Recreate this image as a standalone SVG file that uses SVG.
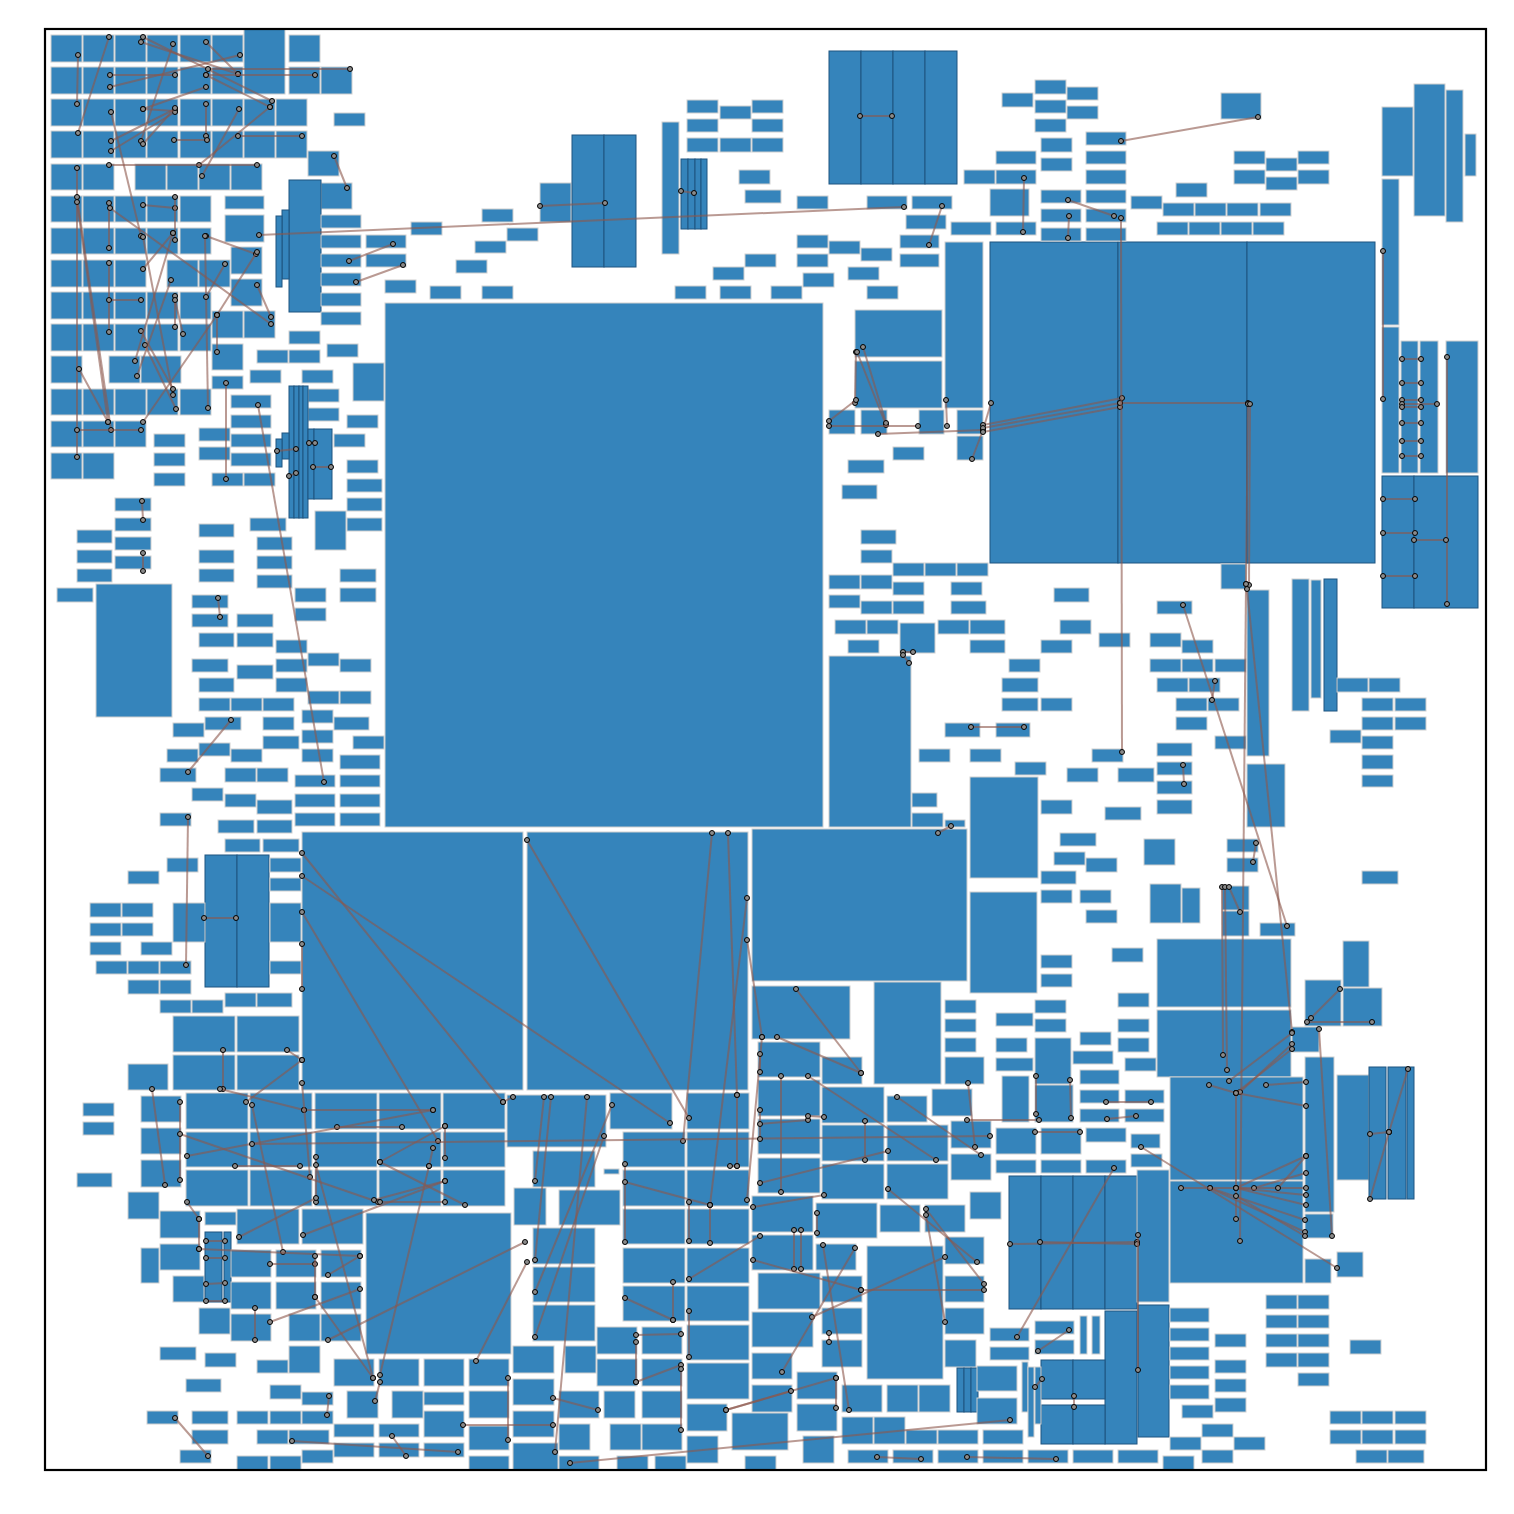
<svg xmlns="http://www.w3.org/2000/svg" width="1514" height="1514" viewBox="0 0 1514 1514">
<style>
#nodes rect{fill:#3584bb;stroke:#cfcfcf;stroke-width:1}
#nodes rect.d{stroke:#1f5580}
#edges line{stroke:#8c564b;stroke-opacity:0.6;stroke-width:2;marker-start:url(#dot);marker-end:url(#dot)}
</style>
<defs>
<marker id="dot" viewBox="0 0 7 7" refX="3.5" refY="3.5" markerWidth="7" markerHeight="7" markerUnits="userSpaceOnUse"><circle cx="3.5" cy="3.5" r="2.5" fill="#8a8a8a" stroke="#000" stroke-width="1"/></marker>
</defs>
<rect x="0" y="0" width="1514" height="1514" fill="#fff"/>
<g id="nodes">
<g id="n1"><rect x="51" y="35" width="31" height="27"/></g>
<g id="n2"><rect x="83" y="35" width="31" height="27"/></g>
<g id="n3"><rect x="115" y="35" width="31" height="27"/></g>
<g id="n4"><rect x="147" y="35" width="31" height="27"/></g>
<g id="n5"><rect x="180" y="35" width="31" height="27"/></g>
<g id="n6"><rect x="212" y="35" width="31" height="27"/></g>
<g id="n7"><rect x="289" y="35" width="31" height="27"/></g>
<g id="n8"><rect x="244" y="29" width="41" height="65"/></g>
<g id="n9"><rect x="51" y="67" width="31" height="27"/></g>
<g id="n10"><rect x="83" y="67" width="31" height="27"/></g>
<g id="n11"><rect x="115" y="67" width="31" height="27"/></g>
<g id="n12"><rect x="147" y="67" width="31" height="27"/></g>
<g id="n13"><rect x="180" y="67" width="31" height="27"/></g>
<g id="n14"><rect x="212" y="67" width="31" height="27"/></g>
<g id="n15"><rect x="289" y="67" width="31" height="27"/></g>
<g id="n16"><rect x="321" y="67" width="31" height="27"/></g>
<g id="n17"><rect x="51" y="99" width="31" height="27"/></g>
<g id="n18"><rect x="83" y="99" width="31" height="27"/></g>
<g id="n19"><rect x="115" y="99" width="31" height="27"/></g>
<g id="n20"><rect x="147" y="99" width="31" height="27"/></g>
<g id="n21"><rect x="180" y="99" width="31" height="27"/></g>
<g id="n22"><rect x="212" y="99" width="31" height="27"/></g>
<g id="n23"><rect x="244" y="99" width="31" height="27"/></g>
<g id="n24"><rect x="276" y="99" width="31" height="27"/></g>
<g id="n25"><rect x="51" y="131" width="31" height="27"/></g>
<g id="n26"><rect x="83" y="131" width="31" height="27"/></g>
<g id="n27"><rect x="115" y="131" width="31" height="27"/></g>
<g id="n28"><rect x="147" y="131" width="31" height="27"/></g>
<g id="n29"><rect x="180" y="131" width="31" height="27"/></g>
<g id="n30"><rect x="212" y="131" width="31" height="27"/></g>
<g id="n31"><rect x="244" y="131" width="31" height="27"/></g>
<g id="n32"><rect x="276" y="131" width="31" height="27"/></g>
<g id="n33"><rect x="51" y="164" width="31" height="26"/></g>
<g id="n34"><rect x="83" y="164" width="31" height="26"/></g>
<g id="n35"><rect x="135" y="164" width="31" height="26"/></g>
<g id="n36"><rect x="167" y="164" width="31" height="26"/></g>
<g id="n37"><rect x="199" y="164" width="31" height="26"/></g>
<g id="n38"><rect x="231" y="164" width="31" height="26"/></g>
<g id="n39"><rect x="51" y="196" width="31" height="26"/></g>
<g id="n40"><rect x="83" y="196" width="31" height="26"/></g>
<g id="n41"><rect x="115" y="196" width="31" height="26"/></g>
<g id="n42"><rect x="147" y="196" width="31" height="26"/></g>
<g id="n43"><rect x="180" y="196" width="31" height="26"/></g>
<g id="n44"><rect x="51" y="228" width="31" height="26"/></g>
<g id="n45"><rect x="83" y="228" width="31" height="26"/></g>
<g id="n46"><rect x="115" y="228" width="31" height="26"/></g>
<g id="n47"><rect x="147" y="228" width="31" height="26"/></g>
<g id="n48"><rect x="180" y="228" width="31" height="26"/></g>
<g id="n49"><rect x="51" y="260" width="31" height="27"/></g>
<g id="n50"><rect x="83" y="260" width="31" height="27"/></g>
<g id="n51"><rect x="115" y="260" width="31" height="27"/></g>
<g id="n52"><rect x="167" y="260" width="31" height="27"/></g>
<g id="n53"><rect x="199" y="260" width="31" height="27"/></g>
<g id="n54"><rect x="51" y="292" width="31" height="27"/></g>
<g id="n55"><rect x="83" y="292" width="31" height="27"/></g>
<g id="n56"><rect x="115" y="292" width="31" height="27"/></g>
<g id="n57"><rect x="147" y="292" width="31" height="27"/></g>
<g id="n58"><rect x="180" y="292" width="31" height="27"/></g>
<g id="n59"><rect x="51" y="324" width="31" height="27"/></g>
<g id="n60"><rect x="83" y="324" width="31" height="27"/></g>
<g id="n61"><rect x="115" y="324" width="31" height="27"/></g>
<g id="n62"><rect x="147" y="324" width="31" height="27"/></g>
<g id="n63"><rect x="180" y="324" width="31" height="27"/></g>
<g id="n64"><rect x="51" y="356" width="31" height="27"/></g>
<g id="n65"><rect x="109" y="356" width="31" height="27"/></g>
<g id="n66"><rect x="141" y="356" width="40" height="27"/></g>
<g id="n67"><rect x="51" y="389" width="31" height="26"/></g>
<g id="n68"><rect x="83" y="389" width="31" height="26"/></g>
<g id="n69"><rect x="115" y="389" width="31" height="26"/></g>
<g id="n70"><rect x="147" y="389" width="31" height="26"/></g>
<g id="n71"><rect x="180" y="389" width="31" height="26"/></g>
<g id="n72"><rect x="51" y="421" width="31" height="26"/></g>
<g id="n73"><rect x="83" y="421" width="31" height="26"/></g>
<g id="n74"><rect x="115" y="421" width="31" height="26"/></g>
<g id="n75"><rect x="51" y="453" width="31" height="26"/></g>
<g id="n76"><rect x="83" y="453" width="31" height="26"/></g>
<g id="n77"><rect x="308" y="151" width="31" height="25"/></g>
<g id="n78"><rect x="321" y="183" width="31" height="26"/></g>
<g id="n79"><rect x="334" y="113" width="31" height="13"/></g>
<g id="n80"><rect x="225" y="196" width="39" height="13"/></g>
<g id="n81"><rect x="225" y="215" width="39" height="27"/></g>
<g id="n82"><rect x="231" y="247" width="31" height="27"/></g>
<g id="n83"><rect x="231" y="279" width="31" height="27"/></g>
<g id="n84"><rect x="212" y="311" width="31" height="27"/></g>
<g id="n85"><rect x="244" y="311" width="31" height="27"/></g>
<g id="n86"><rect x="212" y="344" width="31" height="26"/></g>
<g id="n87"><rect class="d" x="289" y="180" width="32" height="132"/></g>
<g id="n88"><rect class="d" x="282" y="210" width="7" height="69"/></g>
<g id="n89"><rect class="d" x="276" y="216" width="6" height="71"/></g>
<g id="n90"><rect x="321" y="215" width="40" height="13"/></g>
<g id="n91"><rect x="321" y="235" width="40" height="13"/></g>
<g id="n92"><rect x="321" y="254" width="40" height="13"/></g>
<g id="n93"><rect x="321" y="273" width="40" height="13"/></g>
<g id="n94"><rect x="321" y="293" width="40" height="13"/></g>
<g id="n95"><rect x="321" y="312" width="40" height="13"/></g>
<g id="n96"><rect x="366" y="235" width="40" height="13"/></g>
<g id="n97"><rect x="366" y="254" width="40" height="13"/></g>
<g id="n98"><rect x="411" y="222" width="31" height="13"/></g>
<g id="n99"><rect x="482" y="209" width="31" height="13"/></g>
<g id="n100"><rect x="507" y="228" width="31" height="13"/></g>
<g id="n101"><rect x="475" y="241" width="31" height="12"/></g>
<g id="n102"><rect x="456" y="260" width="31" height="13"/></g>
<g id="n103"><rect x="385" y="280" width="31" height="13"/></g>
<g id="n104"><rect x="430" y="286" width="31" height="13"/></g>
<g id="n105"><rect x="482" y="286" width="31" height="13"/></g>
<g id="n106"><rect x="289" y="331" width="31" height="13"/></g>
<g id="n107"><rect x="327" y="344" width="31" height="13"/></g>
<g id="n108"><rect x="257" y="350" width="31" height="13"/></g>
<g id="n109"><rect x="289" y="350" width="31" height="13"/></g>
<g id="n110"><rect x="353" y="363" width="31" height="38"/></g>
<g id="n111"><rect x="250" y="370" width="31" height="13"/></g>
<g id="n112"><rect x="302" y="370" width="31" height="13"/></g>
<g id="n113"><rect x="212" y="376" width="31" height="13"/></g>
<g id="n114"><rect x="231" y="395" width="40" height="13"/></g>
<g id="n115"><rect x="231" y="415" width="40" height="13"/></g>
<g id="n116"><rect x="231" y="434" width="40" height="13"/></g>
<g id="n117"><rect x="231" y="453" width="40" height="13"/></g>
<g id="n118"><rect x="212" y="473" width="31" height="13"/></g>
<g id="n119"><rect x="244" y="473" width="31" height="13"/></g>
<g id="n120"><rect x="154" y="434" width="31" height="13"/></g>
<g id="n121"><rect x="154" y="453" width="31" height="13"/></g>
<g id="n122"><rect x="154" y="473" width="31" height="13"/></g>
<g id="n123"><rect x="199" y="428" width="31" height="13"/></g>
<g id="n124"><rect x="199" y="447" width="31" height="13"/></g>
<g id="n125"><rect x="308" y="389" width="31" height="13"/></g>
<g id="n126"><rect x="308" y="408" width="31" height="13"/></g>
<g id="n127"><rect x="347" y="415" width="31" height="13"/></g>
<g id="n128"><rect x="334" y="434" width="31" height="13"/></g>
<g id="n129"><rect x="347" y="460" width="31" height="13"/></g>
<g id="n130"><rect x="347" y="479" width="35" height="13"/></g>
<g id="n131"><rect x="347" y="498" width="35" height="13"/></g>
<g id="n132"><rect class="d" x="289" y="386" width="5" height="132"/></g>
<g id="n133"><rect class="d" x="294" y="386" width="5" height="132"/></g>
<g id="n134"><rect class="d" x="299" y="386" width="4" height="132"/></g>
<g id="n135"><rect class="d" x="303" y="386" width="5" height="132"/></g>
<g id="n136"><rect class="d" x="308" y="429" width="6" height="70"/></g>
<g id="n137"><rect class="d" x="314" y="429" width="18" height="70"/></g>
<g id="n138"><rect class="d" x="282" y="433" width="7" height="26"/></g>
<g id="n139"><rect class="d" x="276" y="439" width="6" height="28"/></g>
<g id="n140"><rect x="115" y="498" width="36" height="13"/></g>
<g id="n141"><rect x="115" y="518" width="36" height="13"/></g>
<g id="n142"><rect x="115" y="537" width="36" height="13"/></g>
<g id="n143"><rect x="115" y="556" width="36" height="13"/></g>
<g id="n144"><rect x="77" y="530" width="35" height="13"/></g>
<g id="n145"><rect x="77" y="550" width="35" height="13"/></g>
<g id="n146"><rect x="77" y="569" width="35" height="13"/></g>
<g id="n147"><rect x="57" y="588" width="36" height="14"/></g>
<g id="n148"><rect x="96" y="584" width="76" height="133"/></g>
<g id="n149"><rect x="199" y="524" width="35" height="13"/></g>
<g id="n150"><rect x="199" y="550" width="35" height="13"/></g>
<g id="n151"><rect x="199" y="569" width="35" height="13"/></g>
<g id="n152"><rect x="250" y="518" width="36" height="13"/></g>
<g id="n153"><rect x="257" y="537" width="35" height="13"/></g>
<g id="n154"><rect x="257" y="556" width="35" height="13"/></g>
<g id="n155"><rect x="257" y="575" width="35" height="13"/></g>
<g id="n156"><rect x="315" y="511" width="31" height="39"/></g>
<g id="n157"><rect x="347" y="518" width="35" height="13"/></g>
<g id="n158"><rect x="340" y="569" width="36" height="13"/></g>
<g id="n159"><rect x="340" y="588" width="36" height="14"/></g>
<g id="n160"><rect x="295" y="588" width="31" height="14"/></g>
<g id="n161"><rect x="295" y="608" width="31" height="13"/></g>
<g id="n162"><rect x="192" y="595" width="36" height="13"/></g>
<g id="n163"><rect x="192" y="614" width="36" height="13"/></g>
<g id="n164"><rect x="237" y="614" width="36" height="13"/></g>
<g id="n165"><rect x="237" y="633" width="36" height="14"/></g>
<g id="n166"><rect x="199" y="633" width="35" height="14"/></g>
<g id="n167"><rect x="276" y="640" width="31" height="13"/></g>
<g id="n168"><rect x="276" y="659" width="31" height="13"/></g>
<g id="n169"><rect x="276" y="678" width="31" height="14"/></g>
<g id="n170"><rect x="308" y="653" width="31" height="13"/></g>
<g id="n171"><rect x="308" y="691" width="31" height="13"/></g>
<g id="n172"><rect x="340" y="659" width="31" height="13"/></g>
<g id="n173"><rect x="340" y="691" width="31" height="13"/></g>
<g id="n174"><rect x="192" y="659" width="36" height="13"/></g>
<g id="n175"><rect x="237" y="665" width="36" height="14"/></g>
<g id="n176"><rect x="199" y="678" width="35" height="14"/></g>
<g id="n177"><rect x="199" y="698" width="31" height="13"/></g>
<g id="n178"><rect x="231" y="698" width="31" height="13"/></g>
<g id="n179"><rect x="263" y="698" width="31" height="13"/></g>
<g id="n180"><rect x="173" y="723" width="31" height="14"/></g>
<g id="n181"><rect x="205" y="717" width="36" height="13"/></g>
<g id="n182"><rect x="263" y="717" width="31" height="13"/></g>
<g id="n183"><rect x="302" y="710" width="31" height="13"/></g>
<g id="n184"><rect x="302" y="730" width="31" height="13"/></g>
<g id="n185"><rect x="302" y="749" width="31" height="13"/></g>
<g id="n186"><rect x="334" y="717" width="35" height="13"/></g>
<g id="n187"><rect x="263" y="736" width="36" height="13"/></g>
<g id="n188"><rect x="353" y="736" width="31" height="13"/></g>
<g id="n189"><rect x="199" y="743" width="31" height="13"/></g>
<g id="n190"><rect x="167" y="749" width="31" height="13"/></g>
<g id="n191"><rect x="231" y="749" width="31" height="13"/></g>
<g id="n192"><rect x="160" y="768" width="36" height="14"/></g>
<g id="n193"><rect x="225" y="768" width="31" height="14"/></g>
<g id="n194"><rect x="257" y="768" width="31" height="14"/></g>
<g id="n195"><rect x="340" y="755" width="40" height="14"/></g>
<g id="n196"><rect x="340" y="775" width="40" height="12"/></g>
<g id="n197"><rect x="340" y="794" width="40" height="13"/></g>
<g id="n198"><rect x="340" y="813" width="40" height="13"/></g>
<g id="n199"><rect x="295" y="775" width="40" height="12"/></g>
<g id="n200"><rect x="295" y="794" width="40" height="13"/></g>
<g id="n201"><rect x="295" y="813" width="40" height="13"/></g>
<g id="n202"><rect x="192" y="788" width="31" height="13"/></g>
<g id="n203"><rect x="225" y="794" width="31" height="13"/></g>
<g id="n204"><rect x="257" y="800" width="35" height="14"/></g>
<g id="n205"><rect x="160" y="813" width="31" height="13"/></g>
<g id="n206"><rect x="218" y="820" width="36" height="13"/></g>
<g id="n207"><rect x="257" y="820" width="35" height="13"/></g>
<g id="n208"><rect x="225" y="839" width="35" height="13"/></g>
<g id="n209"><rect x="263" y="839" width="36" height="13"/></g>
<g id="n210"><rect x="167" y="858" width="31" height="14"/></g>
<g id="n211"><rect x="128" y="871" width="31" height="13"/></g>
<g id="n212"><rect class="d" x="205" y="855" width="32" height="132"/></g>
<g id="n213"><rect class="d" x="237" y="855" width="32" height="132"/></g>
<g id="n214"><rect x="270" y="858" width="31" height="14"/></g>
<g id="n215"><rect x="270" y="878" width="31" height="13"/></g>
<g id="n216"><rect x="270" y="903" width="31" height="39"/></g>
<g id="n217"><rect x="270" y="961" width="31" height="13"/></g>
<g id="n218"><rect x="173" y="903" width="32" height="39"/></g>
<g id="n219"><rect x="90" y="903" width="31" height="14"/></g>
<g id="n220"><rect x="122" y="903" width="31" height="14"/></g>
<g id="n221"><rect x="90" y="923" width="31" height="13"/></g>
<g id="n222"><rect x="122" y="923" width="31" height="13"/></g>
<g id="n223"><rect x="90" y="942" width="31" height="13"/></g>
<g id="n224"><rect x="141" y="942" width="31" height="13"/></g>
<g id="n225"><rect x="96" y="961" width="31" height="13"/></g>
<g id="n226"><rect x="128" y="961" width="31" height="13"/></g>
<g id="n227"><rect x="160" y="961" width="31" height="13"/></g>
<g id="n228"><rect x="128" y="980" width="31" height="14"/></g>
<g id="n229"><rect x="160" y="980" width="31" height="14"/></g>
<g id="n230"><rect x="385" y="303" width="438" height="524"/></g>
<g id="n231"><rect x="302" y="832" width="221" height="258"/></g>
<g id="n232"><rect x="527" y="832" width="221" height="258"/></g>
<g id="n233"><rect x="752" y="829" width="215" height="152"/></g>
<g id="n234"><rect x="829" y="656" width="82" height="171"/></g>
<g id="n235"><rect x="160" y="1000" width="31" height="13"/></g>
<g id="n236"><rect x="192" y="1000" width="31" height="13"/></g>
<g id="n237"><rect x="225" y="993" width="31" height="14"/></g>
<g id="n238"><rect x="257" y="993" width="35" height="14"/></g>
<g id="n239"><rect x="173" y="1016" width="62" height="36"/></g>
<g id="n240"><rect x="237" y="1016" width="62" height="36"/></g>
<g id="n241"><rect x="173" y="1055" width="62" height="35"/></g>
<g id="n242"><rect x="237" y="1055" width="62" height="35"/></g>
<g id="n243"><rect x="128" y="1064" width="40" height="26"/></g>
<g id="n244"><rect x="83" y="1103" width="31" height="13"/></g>
<g id="n245"><rect x="83" y="1122" width="31" height="13"/></g>
<g id="n246"><rect x="77" y="1173" width="35" height="14"/></g>
<g id="n247"><rect x="141" y="1096" width="40" height="26"/></g>
<g id="n248"><rect x="141" y="1128" width="40" height="26"/></g>
<g id="n249"><rect x="141" y="1160" width="40" height="27"/></g>
<g id="n250"><rect x="186" y="1093" width="62" height="36"/></g>
<g id="n251"><rect x="250" y="1093" width="62" height="36"/></g>
<g id="n252"><rect x="315" y="1093" width="62" height="36"/></g>
<g id="n253"><rect x="379" y="1093" width="62" height="36"/></g>
<g id="n254"><rect x="443" y="1093" width="62" height="36"/></g>
<g id="n255"><rect x="186" y="1132" width="62" height="35"/></g>
<g id="n256"><rect x="250" y="1132" width="62" height="35"/></g>
<g id="n257"><rect x="315" y="1132" width="62" height="35"/></g>
<g id="n258"><rect x="379" y="1132" width="62" height="35"/></g>
<g id="n259"><rect x="443" y="1132" width="62" height="35"/></g>
<g id="n260"><rect x="186" y="1170" width="62" height="36"/></g>
<g id="n261"><rect x="250" y="1170" width="62" height="36"/></g>
<g id="n262"><rect x="315" y="1170" width="62" height="36"/></g>
<g id="n263"><rect x="379" y="1170" width="62" height="36"/></g>
<g id="n264"><rect x="443" y="1170" width="62" height="36"/></g>
<g id="n265"><rect x="507" y="1095" width="99" height="52"/></g>
<g id="n266"><rect x="128" y="1192" width="31" height="27"/></g>
<g id="n267"><rect x="160" y="1211" width="40" height="27"/></g>
<g id="n268"><rect x="160" y="1244" width="40" height="26"/></g>
<g id="n269"><rect x="205" y="1212" width="31" height="13"/></g>
<g id="n270"><rect x="237" y="1209" width="62" height="35"/></g>
<g id="n271"><rect x="302" y="1209" width="61" height="35"/></g>
<g id="n272"><rect x="366" y="1213" width="145" height="141"/></g>
<g id="n273"><rect x="141" y="1248" width="18" height="35"/></g>
<g id="n274"><rect x="173" y="1276" width="31" height="26"/></g>
<g id="n275"><rect class="d" x="205" y="1232" width="17" height="70"/></g>
<g id="n276"><rect class="d" x="224" y="1232" width="7" height="70"/></g>
<g id="n277"><rect x="231" y="1250" width="40" height="27"/></g>
<g id="n278"><rect x="276" y="1250" width="40" height="27"/></g>
<g id="n279"><rect x="321" y="1250" width="40" height="27"/></g>
<g id="n280"><rect x="231" y="1282" width="40" height="27"/></g>
<g id="n281"><rect x="276" y="1282" width="40" height="27"/></g>
<g id="n282"><rect x="321" y="1282" width="40" height="27"/></g>
<g id="n283"><rect x="199" y="1308" width="31" height="26"/></g>
<g id="n284"><rect x="231" y="1314" width="40" height="27"/></g>
<g id="n285"><rect x="289" y="1314" width="31" height="27"/></g>
<g id="n286"><rect x="321" y="1314" width="40" height="27"/></g>
<g id="n287"><rect x="289" y="1346" width="31" height="27"/></g>
<g id="n288"><rect x="160" y="1347" width="36" height="13"/></g>
<g id="n289"><rect x="205" y="1353" width="31" height="14"/></g>
<g id="n290"><rect x="257" y="1360" width="31" height="13"/></g>
<g id="n291"><rect x="186" y="1379" width="35" height="13"/></g>
<g id="n292"><rect x="270" y="1385" width="31" height="14"/></g>
<g id="n293"><rect x="302" y="1392" width="31" height="13"/></g>
<g id="n294"><rect x="147" y="1411" width="31" height="13"/></g>
<g id="n295"><rect x="192" y="1411" width="36" height="13"/></g>
<g id="n296"><rect x="192" y="1430" width="36" height="14"/></g>
<g id="n297"><rect x="237" y="1411" width="31" height="13"/></g>
<g id="n298"><rect x="270" y="1411" width="31" height="13"/></g>
<g id="n299"><rect x="302" y="1411" width="31" height="13"/></g>
<g id="n300"><rect x="257" y="1430" width="31" height="14"/></g>
<g id="n301"><rect x="289" y="1430" width="40" height="14"/></g>
<g id="n302"><rect x="180" y="1450" width="31" height="13"/></g>
<g id="n303"><rect x="237" y="1456" width="31" height="14"/></g>
<g id="n304"><rect x="270" y="1456" width="31" height="14"/></g>
<g id="n305"><rect x="302" y="1450" width="31" height="13"/></g>
<g id="n306"><rect x="334" y="1359" width="40" height="27"/></g>
<g id="n307"><rect x="379" y="1359" width="40" height="27"/></g>
<g id="n308"><rect x="424" y="1359" width="40" height="27"/></g>
<g id="n309"><rect x="469" y="1359" width="40" height="27"/></g>
<g id="n310"><rect x="347" y="1391" width="31" height="27"/></g>
<g id="n311"><rect x="392" y="1391" width="31" height="27"/></g>
<g id="n312"><rect x="424" y="1392" width="40" height="13"/></g>
<g id="n313"><rect x="424" y="1411" width="40" height="26"/></g>
<g id="n314"><rect x="469" y="1391" width="40" height="27"/></g>
<g id="n315"><rect x="469" y="1426" width="40" height="24"/></g>
<g id="n316"><rect x="334" y="1424" width="40" height="13"/></g>
<g id="n317"><rect x="379" y="1424" width="40" height="13"/></g>
<g id="n318"><rect x="334" y="1443" width="40" height="14"/></g>
<g id="n319"><rect x="379" y="1443" width="40" height="14"/></g>
<g id="n320"><rect x="424" y="1443" width="40" height="14"/></g>
<g id="n321"><rect x="469" y="1456" width="40" height="14"/></g>
<g id="n322"><rect x="610" y="1093" width="62" height="36"/></g>
<g id="n323"><rect x="687" y="1093" width="62" height="36"/></g>
<g id="n324"><rect x="687" y="1132" width="62" height="35"/></g>
<g id="n325"><rect x="687" y="1170" width="62" height="36"/></g>
<g id="n326"><rect x="687" y="1209" width="62" height="35"/></g>
<g id="n327"><rect x="687" y="1248" width="62" height="35"/></g>
<g id="n328"><rect x="687" y="1286" width="62" height="35"/></g>
<g id="n329"><rect x="687" y="1325" width="62" height="35"/></g>
<g id="n330"><rect x="687" y="1363" width="62" height="36"/></g>
<g id="n331"><rect x="623" y="1132" width="62" height="35"/></g>
<g id="n332"><rect x="623" y="1170" width="62" height="36"/></g>
<g id="n333"><rect x="623" y="1209" width="62" height="35"/></g>
<g id="n334"><rect x="623" y="1248" width="62" height="35"/></g>
<g id="n335"><rect x="623" y="1286" width="62" height="35"/></g>
<g id="n336"><rect x="533" y="1151" width="62" height="36"/></g>
<g id="n337"><rect x="604" y="1169" width="15" height="5"/></g>
<g id="n338"><rect x="514" y="1188" width="32" height="37"/></g>
<g id="n339"><rect x="559" y="1190" width="61" height="35"/></g>
<g id="n340"><rect x="533" y="1228" width="62" height="36"/></g>
<g id="n341"><rect x="533" y="1267" width="62" height="35"/></g>
<g id="n342"><rect x="533" y="1305" width="62" height="36"/></g>
<g id="n343"><rect x="513" y="1346" width="41" height="27"/></g>
<g id="n344"><rect x="565" y="1346" width="31" height="27"/></g>
<g id="n345"><rect x="597" y="1327" width="40" height="27"/></g>
<g id="n346"><rect x="642" y="1327" width="40" height="27"/></g>
<g id="n347"><rect x="597" y="1359" width="40" height="27"/></g>
<g id="n348"><rect x="642" y="1359" width="40" height="27"/></g>
<g id="n349"><rect x="513" y="1379" width="41" height="26"/></g>
<g id="n350"><rect x="513" y="1411" width="41" height="26"/></g>
<g id="n351"><rect x="513" y="1443" width="45" height="27"/></g>
<g id="n352"><rect x="559" y="1391" width="40" height="27"/></g>
<g id="n353"><rect x="559" y="1424" width="31" height="26"/></g>
<g id="n354"><rect x="559" y="1456" width="40" height="14"/></g>
<g id="n355"><rect x="604" y="1391" width="31" height="27"/></g>
<g id="n356"><rect x="642" y="1391" width="40" height="27"/></g>
<g id="n357"><rect x="610" y="1424" width="31" height="26"/></g>
<g id="n358"><rect x="642" y="1424" width="40" height="26"/></g>
<g id="n359"><rect x="617" y="1456" width="31" height="14"/></g>
<g id="n360"><rect x="655" y="1456" width="31" height="14"/></g>
<g id="n361"><rect x="687" y="1404" width="40" height="27"/></g>
<g id="n362"><rect x="687" y="1436" width="31" height="27"/></g>
<g id="n363"><rect x="732" y="1413" width="56" height="37"/></g>
<g id="n364"><rect x="745" y="1456" width="31" height="14"/></g>
<g id="n365"><rect x="752" y="986" width="98" height="53"/></g>
<g id="n366"><rect x="874" y="982" width="67" height="102"/></g>
<g id="n367"><rect x="945" y="1000" width="31" height="13"/></g>
<g id="n368"><rect x="945" y="1019" width="31" height="13"/></g>
<g id="n369"><rect x="945" y="1038" width="31" height="14"/></g>
<g id="n370"><rect x="945" y="1057" width="39" height="27"/></g>
<g id="n371"><rect x="932" y="1089" width="40" height="27"/></g>
<g id="n372"><rect x="951" y="1121" width="40" height="27"/></g>
<g id="n373"><rect x="951" y="1154" width="40" height="26"/></g>
<g id="n374"><rect x="970" y="1192" width="31" height="27"/></g>
<g id="n375"><rect x="758" y="1042" width="62" height="35"/></g>
<g id="n376"><rect x="758" y="1080" width="62" height="36"/></g>
<g id="n377"><rect x="758" y="1119" width="62" height="35"/></g>
<g id="n378"><rect x="758" y="1158" width="62" height="35"/></g>
<g id="n379"><rect x="822" y="1057" width="40" height="27"/></g>
<g id="n380"><rect x="822" y="1087" width="62" height="36"/></g>
<g id="n381"><rect x="822" y="1125" width="62" height="36"/></g>
<g id="n382"><rect x="822" y="1164" width="62" height="35"/></g>
<g id="n383"><rect x="887" y="1096" width="40" height="26"/></g>
<g id="n384"><rect x="887" y="1125" width="61" height="36"/></g>
<g id="n385"><rect x="887" y="1164" width="61" height="35"/></g>
<g id="n386"><rect x="752" y="1196" width="61" height="36"/></g>
<g id="n387"><rect x="752" y="1235" width="61" height="35"/></g>
<g id="n388"><rect x="758" y="1273" width="62" height="36"/></g>
<g id="n389"><rect x="816" y="1203" width="61" height="35"/></g>
<g id="n390"><rect x="880" y="1205" width="40" height="27"/></g>
<g id="n391"><rect x="925" y="1205" width="40" height="27"/></g>
<g id="n392"><rect x="816" y="1244" width="40" height="26"/></g>
<g id="n393"><rect x="867" y="1246" width="76" height="133"/></g>
<g id="n394"><rect x="945" y="1237" width="39" height="27"/></g>
<g id="n395"><rect x="945" y="1276" width="39" height="26"/></g>
<g id="n396"><rect x="945" y="1308" width="39" height="26"/></g>
<g id="n397"><rect x="945" y="1340" width="31" height="27"/></g>
<g id="n398"><rect x="822" y="1276" width="40" height="26"/></g>
<g id="n399"><rect x="822" y="1308" width="40" height="26"/></g>
<g id="n400"><rect x="822" y="1340" width="40" height="27"/></g>
<g id="n401"><rect x="752" y="1312" width="61" height="35"/></g>
<g id="n402"><rect x="752" y="1353" width="40" height="26"/></g>
<g id="n403"><rect x="752" y="1385" width="40" height="27"/></g>
<g id="n404"><rect x="797" y="1372" width="40" height="27"/></g>
<g id="n405"><rect x="797" y="1404" width="40" height="27"/></g>
<g id="n406"><rect x="803" y="1436" width="31" height="27"/></g>
<g id="n407"><rect x="842" y="1385" width="40" height="27"/></g>
<g id="n408"><rect x="887" y="1385" width="31" height="27"/></g>
<g id="n409"><rect x="919" y="1385" width="31" height="27"/></g>
<g id="n410"><rect x="842" y="1417" width="31" height="27"/></g>
<g id="n411"><rect x="874" y="1417" width="31" height="27"/></g>
<g id="n412"><rect x="906" y="1430" width="31" height="14"/></g>
<g id="n413"><rect x="938" y="1430" width="40" height="14"/></g>
<g id="n414"><rect x="848" y="1450" width="40" height="13"/></g>
<g id="n415"><rect x="893" y="1450" width="40" height="13"/></g>
<g id="n416"><rect x="938" y="1450" width="40" height="13"/></g>
<g id="n417"><rect class="d" x="957" y="1368" width="7" height="44"/></g>
<g id="n418"><rect class="d" x="964" y="1368" width="7" height="44"/></g>
<g id="n419"><rect class="d" x="971" y="1368" width="7" height="44"/></g>
<g id="n420"><rect x="977" y="1366" width="40" height="25"/></g>
<g id="n421"><rect x="977" y="1398" width="40" height="26"/></g>
<g id="n422"><rect x="983" y="1430" width="40" height="14"/></g>
<g id="n423"><rect x="983" y="1450" width="40" height="13"/></g>
<g id="n424"><rect class="d" x="829" y="51" width="32" height="133"/></g>
<g id="n425"><rect class="d" x="861" y="51" width="32" height="133"/></g>
<g id="n426"><rect class="d" x="893" y="51" width="32" height="133"/></g>
<g id="n427"><rect class="d" x="925" y="51" width="32" height="133"/></g>
<g id="n428"><rect x="540" y="183" width="31" height="39"/></g>
<g id="n429"><rect class="d" x="572" y="135" width="32" height="132"/></g>
<g id="n430"><rect class="d" x="604" y="135" width="32" height="132"/></g>
<g id="n431"><rect x="662" y="122" width="17" height="132"/></g>
<g id="n432"><rect class="d" x="681" y="159" width="7" height="70"/></g>
<g id="n433"><rect class="d" x="688" y="159" width="7" height="70"/></g>
<g id="n434"><rect class="d" x="695" y="159" width="6" height="70"/></g>
<g id="n435"><rect class="d" x="701" y="159" width="6" height="70"/></g>
<g id="n436"><rect x="687" y="100" width="31" height="13"/></g>
<g id="n437"><rect x="720" y="106" width="31" height="13"/></g>
<g id="n438"><rect x="752" y="100" width="31" height="13"/></g>
<g id="n439"><rect x="687" y="119" width="31" height="13"/></g>
<g id="n440"><rect x="752" y="119" width="31" height="13"/></g>
<g id="n441"><rect x="687" y="138" width="31" height="14"/></g>
<g id="n442"><rect x="720" y="138" width="31" height="14"/></g>
<g id="n443"><rect x="752" y="138" width="31" height="14"/></g>
<g id="n444"><rect x="739" y="170" width="31" height="14"/></g>
<g id="n445"><rect x="745" y="190" width="36" height="13"/></g>
<g id="n446"><rect x="797" y="196" width="31" height="13"/></g>
<g id="n447"><rect x="867" y="196" width="40" height="13"/></g>
<g id="n448"><rect x="912" y="196" width="40" height="13"/></g>
<g id="n449"><rect x="906" y="215" width="40" height="14"/></g>
<g id="n450"><rect x="900" y="235" width="39" height="13"/></g>
<g id="n451"><rect x="900" y="254" width="39" height="13"/></g>
<g id="n452"><rect x="797" y="235" width="31" height="13"/></g>
<g id="n453"><rect x="797" y="254" width="31" height="13"/></g>
<g id="n454"><rect x="829" y="241" width="31" height="13"/></g>
<g id="n455"><rect x="861" y="248" width="31" height="13"/></g>
<g id="n456"><rect x="745" y="254" width="31" height="13"/></g>
<g id="n457"><rect x="713" y="267" width="31" height="13"/></g>
<g id="n458"><rect x="803" y="273" width="31" height="14"/></g>
<g id="n459"><rect x="848" y="267" width="31" height="13"/></g>
<g id="n460"><rect x="675" y="286" width="31" height="13"/></g>
<g id="n461"><rect x="720" y="286" width="31" height="13"/></g>
<g id="n462"><rect x="771" y="286" width="31" height="13"/></g>
<g id="n463"><rect x="867" y="286" width="31" height="13"/></g>
<g id="n464"><rect x="945" y="242" width="38" height="166"/></g>
<g id="n465"><rect class="d" x="990" y="242" width="128" height="321"/></g>
<g id="n466"><rect class="d" x="1118" y="242" width="129" height="321"/></g>
<g id="n467"><rect class="d" x="1247" y="242" width="128" height="321"/></g>
<g id="n468"><rect x="855" y="310" width="87" height="47"/></g>
<g id="n469"><rect x="855" y="361" width="87" height="47"/></g>
<g id="n470"><rect x="829" y="410" width="26" height="24"/></g>
<g id="n471"><rect x="861" y="410" width="26" height="24"/></g>
<g id="n472"><rect x="919" y="410" width="25" height="24"/></g>
<g id="n473"><rect x="957" y="410" width="26" height="24"/></g>
<g id="n474"><rect x="957" y="436" width="26" height="24"/></g>
<g id="n475"><rect x="893" y="447" width="31" height="13"/></g>
<g id="n476"><rect x="848" y="460" width="36" height="13"/></g>
<g id="n477"><rect x="842" y="485" width="35" height="14"/></g>
<g id="n478"><rect x="1002" y="93" width="31" height="14"/></g>
<g id="n479"><rect x="1035" y="80" width="31" height="14"/></g>
<g id="n480"><rect x="1067" y="87" width="31" height="13"/></g>
<g id="n481"><rect x="1035" y="100" width="31" height="13"/></g>
<g id="n482"><rect x="1067" y="106" width="31" height="13"/></g>
<g id="n483"><rect x="1035" y="119" width="31" height="13"/></g>
<g id="n484"><rect x="1041" y="138" width="31" height="14"/></g>
<g id="n485"><rect x="1041" y="158" width="31" height="13"/></g>
<g id="n486"><rect x="1086" y="132" width="40" height="13"/></g>
<g id="n487"><rect x="1086" y="151" width="40" height="13"/></g>
<g id="n488"><rect x="1086" y="170" width="40" height="14"/></g>
<g id="n489"><rect x="1086" y="190" width="40" height="13"/></g>
<g id="n490"><rect x="1086" y="209" width="40" height="13"/></g>
<g id="n491"><rect x="1086" y="228" width="40" height="13"/></g>
<g id="n492"><rect x="1041" y="190" width="40" height="13"/></g>
<g id="n493"><rect x="1041" y="209" width="40" height="13"/></g>
<g id="n494"><rect x="1041" y="228" width="40" height="13"/></g>
<g id="n495"><rect x="996" y="151" width="40" height="13"/></g>
<g id="n496"><rect x="996" y="170" width="40" height="14"/></g>
<g id="n497"><rect x="964" y="170" width="31" height="14"/></g>
<g id="n498"><rect x="990" y="189" width="39" height="27"/></g>
<g id="n499"><rect x="996" y="222" width="40" height="13"/></g>
<g id="n500"><rect x="951" y="222" width="40" height="13"/></g>
<g id="n501"><rect x="1221" y="93" width="40" height="26"/></g>
<g id="n502"><rect x="1131" y="196" width="31" height="13"/></g>
<g id="n503"><rect x="1176" y="183" width="31" height="14"/></g>
<g id="n504"><rect x="1163" y="203" width="31" height="13"/></g>
<g id="n505"><rect x="1195" y="203" width="31" height="13"/></g>
<g id="n506"><rect x="1227" y="203" width="31" height="13"/></g>
<g id="n507"><rect x="1260" y="203" width="31" height="13"/></g>
<g id="n508"><rect x="1157" y="222" width="31" height="13"/></g>
<g id="n509"><rect x="1189" y="222" width="31" height="13"/></g>
<g id="n510"><rect x="1221" y="222" width="31" height="13"/></g>
<g id="n511"><rect x="1253" y="222" width="31" height="13"/></g>
<g id="n512"><rect x="1234" y="151" width="31" height="13"/></g>
<g id="n513"><rect x="1266" y="158" width="31" height="13"/></g>
<g id="n514"><rect x="1298" y="151" width="31" height="13"/></g>
<g id="n515"><rect x="1234" y="170" width="31" height="14"/></g>
<g id="n516"><rect x="1266" y="177" width="31" height="13"/></g>
<g id="n517"><rect x="1298" y="170" width="31" height="14"/></g>
<g id="n518"><rect x="1382" y="107" width="31" height="69"/></g>
<g id="n519"><rect x="1414" y="84" width="31" height="132"/></g>
<g id="n520"><rect x="1446" y="90" width="17" height="132"/></g>
<g id="n521"><rect x="1465" y="134" width="11" height="42"/></g>
<g id="n522"><rect x="1382" y="179" width="17" height="146"/></g>
<g id="n523"><rect x="1382" y="327" width="17" height="146"/></g>
<g id="n524"><rect x="1401" y="341" width="17" height="132"/></g>
<g id="n525"><rect x="1420" y="341" width="18" height="132"/></g>
<g id="n526"><rect x="1446" y="341" width="32" height="132"/></g>
<g id="n527"><rect class="d" x="1382" y="476" width="32" height="132"/></g>
<g id="n528"><rect class="d" x="1414" y="476" width="64" height="132"/></g>
<g id="n529"><rect x="861" y="530" width="35" height="14"/></g>
<g id="n530"><rect x="861" y="550" width="31" height="13"/></g>
<g id="n531"><rect x="893" y="563" width="31" height="13"/></g>
<g id="n532"><rect x="925" y="563" width="31" height="13"/></g>
<g id="n533"><rect x="957" y="563" width="31" height="13"/></g>
<g id="n534"><rect x="829" y="575" width="31" height="14"/></g>
<g id="n535"><rect x="861" y="575" width="31" height="14"/></g>
<g id="n536"><rect x="829" y="595" width="31" height="13"/></g>
<g id="n537"><rect x="861" y="601" width="31" height="13"/></g>
<g id="n538"><rect x="893" y="601" width="31" height="13"/></g>
<g id="n539"><rect x="893" y="582" width="31" height="13"/></g>
<g id="n540"><rect x="951" y="582" width="31" height="13"/></g>
<g id="n541"><rect x="951" y="601" width="35" height="13"/></g>
<g id="n542"><rect x="835" y="620" width="31" height="14"/></g>
<g id="n543"><rect x="867" y="620" width="31" height="14"/></g>
<g id="n544"><rect x="900" y="623" width="35" height="30"/></g>
<g id="n545"><rect x="938" y="620" width="31" height="14"/></g>
<g id="n546"><rect x="970" y="620" width="35" height="14"/></g>
<g id="n547"><rect x="848" y="640" width="31" height="13"/></g>
<g id="n548"><rect x="970" y="640" width="35" height="13"/></g>
<g id="n549"><rect x="945" y="723" width="35" height="14"/></g>
<g id="n550"><rect x="996" y="723" width="34" height="14"/></g>
<g id="n551"><rect x="919" y="749" width="31" height="13"/></g>
<g id="n552"><rect x="970" y="749" width="31" height="13"/></g>
<g id="n553"><rect x="970" y="777" width="68" height="101"/></g>
<g id="n554"><rect x="970" y="892" width="67" height="101"/></g>
<g id="n555"><rect x="912" y="793" width="25" height="14"/></g>
<g id="n556"><rect x="912" y="813" width="31" height="14"/></g>
<g id="n557"><rect x="945" y="820" width="20" height="7"/></g>
<g id="n558"><rect x="1221" y="564" width="25" height="25"/></g>
<g id="n559"><rect x="1247" y="590" width="22" height="166"/></g>
<g id="n560"><rect x="1247" y="764" width="38" height="63"/></g>
<g id="n561"><rect x="1292" y="579" width="17" height="132"/></g>
<g id="n562"><rect x="1311" y="580" width="10" height="118"/></g>
<g id="n563"><rect class="d" x="1324" y="579" width="13" height="132"/></g>
<g id="n564"><rect x="1337" y="678" width="31" height="14"/></g>
<g id="n565"><rect x="1369" y="678" width="31" height="14"/></g>
<g id="n566"><rect x="1362" y="698" width="31" height="13"/></g>
<g id="n567"><rect x="1395" y="698" width="31" height="13"/></g>
<g id="n568"><rect x="1362" y="717" width="31" height="13"/></g>
<g id="n569"><rect x="1395" y="717" width="31" height="13"/></g>
<g id="n570"><rect x="1330" y="730" width="31" height="13"/></g>
<g id="n571"><rect x="1362" y="736" width="31" height="13"/></g>
<g id="n572"><rect x="1362" y="755" width="31" height="14"/></g>
<g id="n573"><rect x="1362" y="775" width="31" height="12"/></g>
<g id="n574"><rect x="1362" y="871" width="36" height="13"/></g>
<g id="n575"><rect x="1054" y="588" width="35" height="14"/></g>
<g id="n576"><rect x="1060" y="620" width="31" height="14"/></g>
<g id="n577"><rect x="1041" y="640" width="31" height="13"/></g>
<g id="n578"><rect x="1099" y="633" width="31" height="14"/></g>
<g id="n579"><rect x="1009" y="659" width="31" height="13"/></g>
<g id="n580"><rect x="1002" y="678" width="36" height="14"/></g>
<g id="n581"><rect x="1002" y="698" width="36" height="13"/></g>
<g id="n582"><rect x="1041" y="698" width="31" height="13"/></g>
<g id="n583"><rect x="1092" y="749" width="31" height="13"/></g>
<g id="n584"><rect x="1015" y="762" width="31" height="13"/></g>
<g id="n585"><rect x="1067" y="768" width="31" height="14"/></g>
<g id="n586"><rect x="1118" y="768" width="36" height="14"/></g>
<g id="n587"><rect x="1157" y="601" width="35" height="13"/></g>
<g id="n588"><rect x="1150" y="633" width="31" height="14"/></g>
<g id="n589"><rect x="1182" y="640" width="31" height="13"/></g>
<g id="n590"><rect x="1150" y="659" width="31" height="13"/></g>
<g id="n591"><rect x="1182" y="659" width="31" height="13"/></g>
<g id="n592"><rect x="1215" y="659" width="31" height="13"/></g>
<g id="n593"><rect x="1157" y="678" width="31" height="14"/></g>
<g id="n594"><rect x="1189" y="678" width="31" height="14"/></g>
<g id="n595"><rect x="1176" y="698" width="31" height="13"/></g>
<g id="n596"><rect x="1208" y="698" width="31" height="13"/></g>
<g id="n597"><rect x="1176" y="717" width="31" height="13"/></g>
<g id="n598"><rect x="1215" y="736" width="31" height="13"/></g>
<g id="n599"><rect x="1157" y="743" width="35" height="13"/></g>
<g id="n600"><rect x="1157" y="762" width="35" height="13"/></g>
<g id="n601"><rect x="1157" y="781" width="35" height="13"/></g>
<g id="n602"><rect x="1157" y="800" width="35" height="14"/></g>
<g id="n603"><rect x="1041" y="800" width="31" height="14"/></g>
<g id="n604"><rect x="1105" y="807" width="36" height="13"/></g>
<g id="n605"><rect x="1060" y="833" width="36" height="13"/></g>
<g id="n606"><rect x="1054" y="852" width="31" height="13"/></g>
<g id="n607"><rect x="1086" y="858" width="31" height="14"/></g>
<g id="n608"><rect x="1041" y="871" width="35" height="13"/></g>
<g id="n609"><rect x="1041" y="890" width="31" height="13"/></g>
<g id="n610"><rect x="1080" y="890" width="31" height="13"/></g>
<g id="n611"><rect x="1086" y="910" width="31" height="13"/></g>
<g id="n612"><rect x="1144" y="839" width="31" height="26"/></g>
<g id="n613"><rect x="1227" y="839" width="31" height="13"/></g>
<g id="n614"><rect x="1227" y="858" width="31" height="14"/></g>
<g id="n615"><rect x="1150" y="884" width="31" height="39"/></g>
<g id="n616"><rect x="1182" y="888" width="18" height="35"/></g>
<g id="n617"><rect x="1222" y="886" width="27" height="24"/></g>
<g id="n618"><rect x="1222" y="911" width="27" height="25"/></g>
<g id="n619"><rect x="1260" y="923" width="35" height="13"/></g>
<g id="n620"><rect x="1112" y="948" width="31" height="14"/></g>
<g id="n621"><rect x="1041" y="955" width="31" height="13"/></g>
<g id="n622"><rect x="1041" y="974" width="31" height="13"/></g>
<g id="n623"><rect x="1157" y="939" width="134" height="68"/></g>
<g id="n624"><rect x="1157" y="1010" width="134" height="67"/></g>
<g id="n625"><rect x="1343" y="941" width="26" height="46"/></g>
<g id="n626"><rect x="1305" y="980" width="36" height="46"/></g>
<g id="n627"><rect x="1343" y="988" width="39" height="38"/></g>
<g id="n628"><rect x="1118" y="993" width="31" height="14"/></g>
<g id="n629"><rect x="1035" y="1000" width="31" height="13"/></g>
<g id="n630"><rect x="1035" y="1019" width="31" height="13"/></g>
<g id="n631"><rect x="996" y="1013" width="37" height="13"/></g>
<g id="n632"><rect x="1118" y="1019" width="31" height="13"/></g>
<g id="n633"><rect x="1118" y="1038" width="31" height="14"/></g>
<g id="n634"><rect x="1080" y="1032" width="31" height="13"/></g>
<g id="n635"><rect x="996" y="1038" width="31" height="14"/></g>
<g id="n636"><rect x="1073" y="1051" width="40" height="13"/></g>
<g id="n637"><rect x="1125" y="1058" width="31" height="13"/></g>
<g id="n638"><rect x="996" y="1058" width="37" height="13"/></g>
<g id="n639"><rect x="1035" y="1038" width="36" height="46"/></g>
<g id="n640"><rect x="1035" y="1085" width="38" height="37"/></g>
<g id="n641"><rect x="1002" y="1076" width="27" height="46"/></g>
<g id="n642"><rect x="1080" y="1070" width="39" height="14"/></g>
<g id="n643"><rect x="1080" y="1090" width="39" height="13"/></g>
<g id="n644"><rect x="1125" y="1090" width="39" height="13"/></g>
<g id="n645"><rect x="1080" y="1109" width="39" height="13"/></g>
<g id="n646"><rect x="1125" y="1109" width="39" height="13"/></g>
<g id="n647"><rect x="996" y="1128" width="40" height="26"/></g>
<g id="n648"><rect x="1041" y="1128" width="40" height="26"/></g>
<g id="n649"><rect x="1086" y="1128" width="40" height="14"/></g>
<g id="n650"><rect x="1131" y="1134" width="29" height="14"/></g>
<g id="n651"><rect x="1131" y="1154" width="31" height="13"/></g>
<g id="n652"><rect x="996" y="1160" width="40" height="13"/></g>
<g id="n653"><rect x="1041" y="1160" width="40" height="13"/></g>
<g id="n654"><rect x="1086" y="1160" width="40" height="13"/></g>
<g id="n655"><rect class="d" x="1009" y="1176" width="32" height="133"/></g>
<g id="n656"><rect class="d" x="1041" y="1176" width="32" height="133"/></g>
<g id="n657"><rect class="d" x="1073" y="1176" width="32" height="133"/></g>
<g id="n658"><rect class="d" x="1105" y="1176" width="32" height="133"/></g>
<g id="n659"><rect x="1137" y="1170" width="32" height="132"/></g>
<g id="n660"><rect class="d" x="1105" y="1311" width="32" height="133"/></g>
<g id="n661"><rect class="d" x="1138" y="1305" width="31" height="132"/></g>
<g id="n662"><rect x="1170" y="1077" width="133" height="103"/></g>
<g id="n663"><rect x="1170" y="1181" width="133" height="102"/></g>
<g id="n664"><rect x="1305" y="1057" width="29" height="155"/></g>
<g id="n665"><rect x="1305" y="1214" width="28" height="24"/></g>
<g id="n666"><rect x="1305" y="1259" width="26" height="24"/></g>
<g id="n667"><rect x="1337" y="1252" width="26" height="25"/></g>
<g id="n668"><rect x="1292" y="1027" width="27" height="25"/></g>
<g id="n669"><rect x="1337" y="1075" width="32" height="105"/></g>
<g id="n670"><rect class="d" x="1369" y="1067" width="17" height="132"/></g>
<g id="n671"><rect class="d" x="1388" y="1067" width="18" height="132"/></g>
<g id="n672"><rect class="d" x="1407" y="1067" width="7" height="132"/></g>
<g id="n673"><rect x="1266" y="1295" width="31" height="14"/></g>
<g id="n674"><rect x="1298" y="1295" width="31" height="14"/></g>
<g id="n675"><rect x="1266" y="1315" width="31" height="13"/></g>
<g id="n676"><rect x="1298" y="1315" width="31" height="13"/></g>
<g id="n677"><rect x="1266" y="1334" width="31" height="13"/></g>
<g id="n678"><rect x="1298" y="1334" width="31" height="13"/></g>
<g id="n679"><rect x="1266" y="1353" width="31" height="14"/></g>
<g id="n680"><rect x="1298" y="1353" width="31" height="14"/></g>
<g id="n681"><rect x="1298" y="1373" width="31" height="13"/></g>
<g id="n682"><rect x="1350" y="1340" width="31" height="14"/></g>
<g id="n683"><rect x="1170" y="1308" width="39" height="14"/></g>
<g id="n684"><rect x="1170" y="1328" width="39" height="13"/></g>
<g id="n685"><rect x="1170" y="1347" width="39" height="13"/></g>
<g id="n686"><rect x="1170" y="1366" width="39" height="13"/></g>
<g id="n687"><rect x="1170" y="1385" width="39" height="14"/></g>
<g id="n688"><rect x="1215" y="1334" width="31" height="13"/></g>
<g id="n689"><rect x="1215" y="1360" width="31" height="13"/></g>
<g id="n690"><rect x="1215" y="1379" width="31" height="13"/></g>
<g id="n691"><rect x="1215" y="1398" width="31" height="14"/></g>
<g id="n692"><rect x="1182" y="1405" width="31" height="13"/></g>
<g id="n693"><rect x="1202" y="1424" width="31" height="13"/></g>
<g id="n694"><rect x="1170" y="1437" width="31" height="13"/></g>
<g id="n695"><rect x="1234" y="1437" width="31" height="13"/></g>
<g id="n696"><rect x="1202" y="1450" width="31" height="13"/></g>
<g id="n697"><rect x="1163" y="1456" width="31" height="14"/></g>
<g id="n698"><rect x="1330" y="1411" width="31" height="13"/></g>
<g id="n699"><rect x="1362" y="1411" width="31" height="13"/></g>
<g id="n700"><rect x="1395" y="1411" width="31" height="13"/></g>
<g id="n701"><rect x="1330" y="1430" width="31" height="14"/></g>
<g id="n702"><rect x="1362" y="1430" width="31" height="14"/></g>
<g id="n703"><rect x="1395" y="1430" width="31" height="14"/></g>
<g id="n704"><rect x="1356" y="1450" width="31" height="13"/></g>
<g id="n705"><rect x="1388" y="1450" width="36" height="13"/></g>
<g id="n706"><rect x="1035" y="1321" width="39" height="13"/></g>
<g id="n707"><rect x="1035" y="1340" width="39" height="14"/></g>
<g id="n708"><rect x="990" y="1328" width="39" height="13"/></g>
<g id="n709"><rect x="990" y="1347" width="39" height="13"/></g>
<g id="n710"><rect x="1080" y="1316" width="7" height="38"/></g>
<g id="n711"><rect x="1092" y="1316" width="8" height="38"/></g>
<g id="n712"><rect class="d" x="1041" y="1360" width="32" height="39"/></g>
<g id="n713"><rect class="d" x="1073" y="1360" width="32" height="39"/></g>
<g id="n714"><rect class="d" x="1041" y="1405" width="32" height="39"/></g>
<g id="n715"><rect class="d" x="1073" y="1405" width="32" height="39"/></g>
<g id="n716"><rect x="1022" y="1362" width="6" height="50"/></g>
<g id="n717"><rect x="1028" y="1367" width="6" height="70"/></g>
<g id="n718"><rect x="1035" y="1367" width="6" height="57"/></g>
<g id="n719"><rect x="1028" y="1450" width="40" height="13"/></g>
<g id="n720"><rect x="1073" y="1450" width="40" height="13"/></g>
<g id="n721"><rect x="1118" y="1450" width="40" height="13"/></g>
</g>
<g id="edges">
<line x1="78" y1="55" x2="77" y2="104"/>
<line x1="109" y1="37" x2="78" y2="133"/>
<line x1="143" y1="37" x2="272" y2="101"/>
<line x1="141" y1="42" x2="238" y2="74"/>
<line x1="173" y1="44" x2="141" y2="141"/>
<line x1="206" y1="42" x2="238" y2="74"/>
<line x1="110" y1="75" x2="175" y2="75"/>
<line x1="110" y1="87" x2="240" y2="55"/>
<line x1="208" y1="69" x2="350" y2="69"/>
<line x1="206" y1="75" x2="315" y2="75"/>
<line x1="206" y1="75" x2="270" y2="107"/>
<line x1="206" y1="87" x2="143" y2="109"/>
<line x1="111" y1="112" x2="141" y2="236"/>
<line x1="143" y1="109" x2="175" y2="111"/>
<line x1="175" y1="109" x2="111" y2="141"/>
<line x1="175" y1="112" x2="111" y2="151"/>
<line x1="175" y1="108" x2="143" y2="144"/>
<line x1="206" y1="104" x2="206" y2="136"/>
<line x1="174" y1="140" x2="207" y2="140"/>
<line x1="239" y1="109" x2="202" y2="176"/>
<line x1="270" y1="107" x2="199" y2="165"/>
<line x1="238" y1="136" x2="302" y2="136"/>
<line x1="77" y1="168" x2="77" y2="457"/>
<line x1="109" y1="165" x2="257" y2="165"/>
<line x1="77" y1="197" x2="111" y2="430"/>
<line x1="77" y1="202" x2="108" y2="422"/>
<line x1="109" y1="203" x2="109" y2="248"/>
<line x1="110" y1="208" x2="271" y2="324"/>
<line x1="143" y1="205" x2="175" y2="208"/>
<line x1="175" y1="197" x2="175" y2="240"/>
<line x1="143" y1="237" x2="173" y2="395"/>
<line x1="206" y1="236" x2="256" y2="254"/>
<line x1="205" y1="236" x2="208" y2="408"/>
<line x1="173" y1="233" x2="143" y2="269"/>
<line x1="257" y1="252" x2="217" y2="315"/>
<line x1="225" y1="264" x2="206" y2="297"/>
<line x1="257" y1="285" x2="271" y2="317"/>
<line x1="109" y1="263" x2="109" y2="332"/>
<line x1="109" y1="300" x2="141" y2="300"/>
<line x1="175" y1="296" x2="175" y2="327"/>
<line x1="141" y1="331" x2="173" y2="389"/>
<line x1="145" y1="345" x2="176" y2="409"/>
<line x1="135" y1="361" x2="173" y2="233"/>
<line x1="137" y1="376" x2="171" y2="280"/>
<line x1="183" y1="334" x2="175" y2="300"/>
<line x1="217" y1="315" x2="217" y2="352"/>
<line x1="143" y1="422" x2="217" y2="315"/>
<line x1="77" y1="430" x2="141" y2="430"/>
<line x1="226" y1="383" x2="226" y2="479"/>
<line x1="258" y1="405" x2="324" y2="782"/>
<line x1="79" y1="369" x2="108" y2="422"/>
<line x1="334" y1="156" x2="347" y2="188"/>
<line x1="259" y1="235" x2="904" y2="207"/>
<line x1="349" y1="261" x2="393" y2="244"/>
<line x1="356" y1="282" x2="403" y2="265"/>
<line x1="277" y1="451" x2="296" y2="449"/>
<line x1="309" y1="443" x2="315" y2="443"/>
<line x1="313" y1="467" x2="331" y2="467"/>
<line x1="289" y1="476" x2="296" y2="473"/>
<line x1="142" y1="501" x2="143" y2="520"/>
<line x1="143" y1="553" x2="143" y2="571"/>
<line x1="218" y1="598" x2="220" y2="617"/>
<line x1="231" y1="720" x2="188" y2="772"/>
<line x1="188" y1="817" x2="186" y2="965"/>
<line x1="204" y1="918" x2="236" y2="918"/>
<line x1="540" y1="206" x2="605" y2="203"/>
<line x1="681" y1="191" x2="694" y2="193"/>
<line x1="860" y1="116" x2="892" y2="116"/>
<line x1="942" y1="206" x2="929" y2="245"/>
<line x1="856" y1="352" x2="855" y2="403"/>
<line x1="857" y1="352" x2="886" y2="425"/>
<line x1="863" y1="347" x2="886" y2="423"/>
<line x1="856" y1="400" x2="829" y2="421"/>
<line x1="829" y1="426" x2="918" y2="426"/>
<line x1="878" y1="434" x2="983" y2="430"/>
<line x1="946" y1="400" x2="947" y2="426"/>
<line x1="983" y1="430" x2="972" y2="459"/>
<line x1="991" y1="403" x2="983" y2="430"/>
<line x1="983" y1="425" x2="1122" y2="398"/>
<line x1="983" y1="428" x2="1120" y2="403"/>
<line x1="983" y1="432" x2="1120" y2="407"/>
<line x1="1120" y1="403" x2="1248" y2="403"/>
<line x1="1121" y1="218" x2="1122" y2="752"/>
<line x1="1248" y1="404" x2="1246" y2="584"/>
<line x1="1250" y1="404" x2="1249" y2="585"/>
<line x1="1246" y1="584" x2="1240" y2="1241"/>
<line x1="1247" y1="589" x2="1292" y2="1032"/>
<line x1="1183" y1="605" x2="1287" y2="926"/>
<line x1="1215" y1="681" x2="1212" y2="700"/>
<line x1="1183" y1="765" x2="1184" y2="784"/>
<line x1="1256" y1="843" x2="1253" y2="862"/>
<line x1="971" y1="727" x2="1024" y2="727"/>
<line x1="1024" y1="178" x2="1023" y2="232"/>
<line x1="1068" y1="200" x2="1114" y2="216"/>
<line x1="1069" y1="216" x2="1068" y2="238"/>
<line x1="1121" y1="141" x2="1258" y2="117"/>
<line x1="1383" y1="251" x2="1383" y2="399"/>
<line x1="1402" y1="359" x2="1421" y2="359"/>
<line x1="1402" y1="383" x2="1421" y2="383"/>
<line x1="1402" y1="400" x2="1421" y2="400"/>
<line x1="1402" y1="404" x2="1437" y2="404"/>
<line x1="1402" y1="407" x2="1421" y2="407"/>
<line x1="1402" y1="423" x2="1421" y2="423"/>
<line x1="1402" y1="441" x2="1421" y2="441"/>
<line x1="1402" y1="456" x2="1421" y2="456"/>
<line x1="1447" y1="357" x2="1447" y2="604"/>
<line x1="1383" y1="499" x2="1415" y2="499"/>
<line x1="1383" y1="533" x2="1415" y2="533"/>
<line x1="1414" y1="540" x2="1446" y2="540"/>
<line x1="1383" y1="576" x2="1415" y2="576"/>
<line x1="903" y1="652" x2="913" y2="652"/>
<line x1="903" y1="655" x2="909" y2="663"/>
<line x1="527" y1="840" x2="689" y2="1118"/>
<line x1="712" y1="833" x2="683" y2="1141"/>
<line x1="728" y1="833" x2="737" y2="1095"/>
<line x1="747" y1="898" x2="710" y2="1205"/>
<line x1="747" y1="940" x2="762" y2="1037"/>
<line x1="938" y1="833" x2="951" y2="826"/>
<line x1="302" y1="853" x2="503" y2="1102"/>
<line x1="302" y1="876" x2="670" y2="1123"/>
<line x1="302" y1="912" x2="438" y2="1141"/>
<line x1="302" y1="944" x2="302" y2="989"/>
<line x1="223" y1="1050" x2="223" y2="1089"/>
<line x1="287" y1="1050" x2="302" y2="1060"/>
<line x1="302" y1="1060" x2="246" y2="1102"/>
<line x1="152" y1="1089" x2="165" y2="1185"/>
<line x1="180" y1="1102" x2="180" y2="1180"/>
<line x1="220" y1="1089" x2="304" y2="1110"/>
<line x1="304" y1="1110" x2="433" y2="1110"/>
<line x1="252" y1="1105" x2="283" y2="1252"/>
<line x1="302" y1="1083" x2="310" y2="1177"/>
<line x1="337" y1="1127" x2="402" y2="1127"/>
<line x1="187" y1="1156" x2="433" y2="1110"/>
<line x1="180" y1="1134" x2="378" y2="1202"/>
<line x1="235" y1="1166" x2="300" y2="1166"/>
<line x1="252" y1="1144" x2="990" y2="1136"/>
<line x1="316" y1="1157" x2="316" y2="1202"/>
<line x1="380" y1="1162" x2="445" y2="1126"/>
<line x1="380" y1="1162" x2="465" y2="1205"/>
<line x1="374" y1="1200" x2="445" y2="1181"/>
<line x1="380" y1="1202" x2="445" y2="1202"/>
<line x1="429" y1="1166" x2="380" y2="1375"/>
<line x1="429" y1="1166" x2="433" y2="1148"/>
<line x1="445" y1="1158" x2="445" y2="1126"/>
<line x1="503" y1="1102" x2="513" y2="1097"/>
<line x1="187" y1="1202" x2="199" y2="1219"/>
<line x1="199" y1="1219" x2="199" y2="1249"/>
<line x1="199" y1="1249" x2="360" y2="1256"/>
<line x1="206" y1="1241" x2="225" y2="1241"/>
<line x1="206" y1="1258" x2="225" y2="1258"/>
<line x1="206" y1="1284" x2="225" y2="1283"/>
<line x1="206" y1="1301" x2="225" y2="1301"/>
<line x1="270" y1="1264" x2="315" y2="1264"/>
<line x1="239" y1="1237" x2="316" y2="1198"/>
<line x1="303" y1="1235" x2="445" y2="1181"/>
<line x1="315" y1="1256" x2="315" y2="1297"/>
<line x1="328" y1="1275" x2="360" y2="1256"/>
<line x1="255" y1="1308" x2="255" y2="1340"/>
<line x1="270" y1="1322" x2="360" y2="1289"/>
<line x1="328" y1="1340" x2="525" y2="1242"/>
<line x1="476" y1="1361" x2="527" y2="1262"/>
<line x1="315" y1="1297" x2="373" y2="1378"/>
<line x1="316" y1="1165" x2="373" y2="1378"/>
<line x1="375" y1="1401" x2="380" y2="1382"/>
<line x1="329" y1="1396" x2="327" y2="1415"/>
<line x1="175" y1="1418" x2="208" y2="1456"/>
<line x1="292" y1="1441" x2="458" y2="1452"/>
<line x1="392" y1="1436" x2="406" y2="1456"/>
<line x1="463" y1="1425" x2="553" y2="1425"/>
<line x1="508" y1="1378" x2="508" y2="1440"/>
<line x1="544" y1="1097" x2="535" y2="1181"/>
<line x1="551" y1="1097" x2="535" y2="1260"/>
<line x1="587" y1="1097" x2="555" y2="1452"/>
<line x1="612" y1="1105" x2="535" y2="1292"/>
<line x1="604" y1="1136" x2="535" y2="1337"/>
<line x1="737" y1="1095" x2="737" y2="1166"/>
<line x1="730" y1="1166" x2="737" y2="1166"/>
<line x1="625" y1="1164" x2="625" y2="1242"/>
<line x1="625" y1="1182" x2="710" y2="1205"/>
<line x1="689" y1="1202" x2="689" y2="1241"/>
<line x1="710" y1="1205" x2="710" y2="1243"/>
<line x1="673" y1="1282" x2="673" y2="1320"/>
<line x1="625" y1="1298" x2="673" y2="1320"/>
<line x1="689" y1="1279" x2="760" y2="1236"/>
<line x1="689" y1="1311" x2="689" y2="1357"/>
<line x1="636" y1="1335" x2="681" y2="1334"/>
<line x1="636" y1="1342" x2="636" y2="1382"/>
<line x1="636" y1="1382" x2="681" y2="1365"/>
<line x1="681" y1="1369" x2="681" y2="1430"/>
<line x1="553" y1="1398" x2="598" y2="1410"/>
<line x1="570" y1="1463" x2="1010" y2="1420"/>
<line x1="726" y1="1410" x2="836" y2="1378"/>
<line x1="726" y1="1410" x2="791" y2="1391"/>
<line x1="836" y1="1378" x2="836" y2="1408"/>
<line x1="777" y1="1037" x2="861" y2="1073"/>
<line x1="762" y1="1037" x2="747" y2="1200"/>
<line x1="760" y1="1054" x2="760" y2="1072"/>
<line x1="781" y1="1076" x2="781" y2="1192"/>
<line x1="808" y1="1076" x2="936" y2="1160"/>
<line x1="796" y1="989" x2="861" y2="1073"/>
<line x1="760" y1="1110" x2="760" y2="1139"/>
<line x1="760" y1="1124" x2="808" y2="1120"/>
<line x1="808" y1="1116" x2="824" y2="1117"/>
<line x1="865" y1="1121" x2="865" y2="1160"/>
<line x1="760" y1="1183" x2="888" y2="1151"/>
<line x1="753" y1="1207" x2="824" y2="1195"/>
<line x1="794" y1="1230" x2="794" y2="1269"/>
<line x1="801" y1="1230" x2="801" y2="1269"/>
<line x1="753" y1="1260" x2="861" y2="1290"/>
<line x1="861" y1="1290" x2="984" y2="1290"/>
<line x1="945" y1="1257" x2="812" y2="1317"/>
<line x1="855" y1="1248" x2="782" y2="1372"/>
<line x1="823" y1="1245" x2="849" y2="1410"/>
<line x1="888" y1="1189" x2="977" y2="1262"/>
<line x1="926" y1="1209" x2="984" y2="1284"/>
<line x1="926" y1="1215" x2="945" y2="1322"/>
<line x1="968" y1="1083" x2="975" y2="1147"/>
<line x1="897" y1="1097" x2="981" y2="1155"/>
<line x1="817" y1="1213" x2="817" y2="1233"/>
<line x1="829" y1="1333" x2="829" y2="1342"/>
<line x1="877" y1="1457" x2="921" y2="1459"/>
<line x1="967" y1="1457" x2="1056" y2="1459"/>
<line x1="1307" y1="1022" x2="1372" y2="1022"/>
<line x1="1311" y1="1018" x2="1340" y2="989"/>
<line x1="1319" y1="1029" x2="1332" y2="1236"/>
<line x1="1292" y1="1033" x2="1229" y2="1081"/>
<line x1="1292" y1="1044" x2="1240" y2="1092"/>
<line x1="1292" y1="1049" x2="1236" y2="1093"/>
<line x1="1222" y1="887" x2="1223" y2="1055"/>
<line x1="1225" y1="887" x2="1227" y2="1070"/>
<line x1="1229" y1="887" x2="1240" y2="912"/>
<line x1="1209" y1="1085" x2="1236" y2="1093"/>
<line x1="1236" y1="1093" x2="1306" y2="1106"/>
<line x1="1266" y1="1085" x2="1306" y2="1082"/>
<line x1="1236" y1="1093" x2="1236" y2="1219"/>
<line x1="1181" y1="1188" x2="1306" y2="1188"/>
<line x1="1210" y1="1188" x2="1305" y2="1220"/>
<line x1="1210" y1="1188" x2="1305" y2="1232"/>
<line x1="1236" y1="1188" x2="1306" y2="1156"/>
<line x1="1254" y1="1188" x2="1306" y2="1173"/>
<line x1="1278" y1="1188" x2="1306" y2="1156"/>
<line x1="1236" y1="1188" x2="1306" y2="1195"/>
<line x1="1236" y1="1188" x2="1306" y2="1205"/>
<line x1="1236" y1="1196" x2="1305" y2="1236"/>
<line x1="1141" y1="1147" x2="1337" y2="1268"/>
<line x1="1036" y1="1076" x2="1036" y2="1114"/>
<line x1="1070" y1="1080" x2="1071" y2="1118"/>
<line x1="967" y1="1120" x2="1039" y2="1120"/>
<line x1="1035" y1="1132" x2="1080" y2="1132"/>
<line x1="1106" y1="1102" x2="1151" y2="1102"/>
<line x1="1107" y1="1119" x2="1136" y2="1116"/>
<line x1="1114" y1="1168" x2="1017" y2="1337"/>
<line x1="1010" y1="1244" x2="1137" y2="1242"/>
<line x1="1040" y1="1242" x2="1137" y2="1244"/>
<line x1="1138" y1="1235" x2="1138" y2="1370"/>
<line x1="1038" y1="1351" x2="1069" y2="1330"/>
<line x1="1035" y1="1387" x2="1042" y2="1379"/>
<line x1="1074" y1="1396" x2="1074" y2="1407"/>
<line x1="1370" y1="1134" x2="1389" y2="1132"/>
<line x1="1389" y1="1132" x2="1408" y2="1069"/>
<line x1="1389" y1="1132" x2="1370" y2="1199"/>
</g>
<rect x="45" y="29" width="1441" height="1441" fill="none" stroke="#000" stroke-width="2.2"/>
</svg>
